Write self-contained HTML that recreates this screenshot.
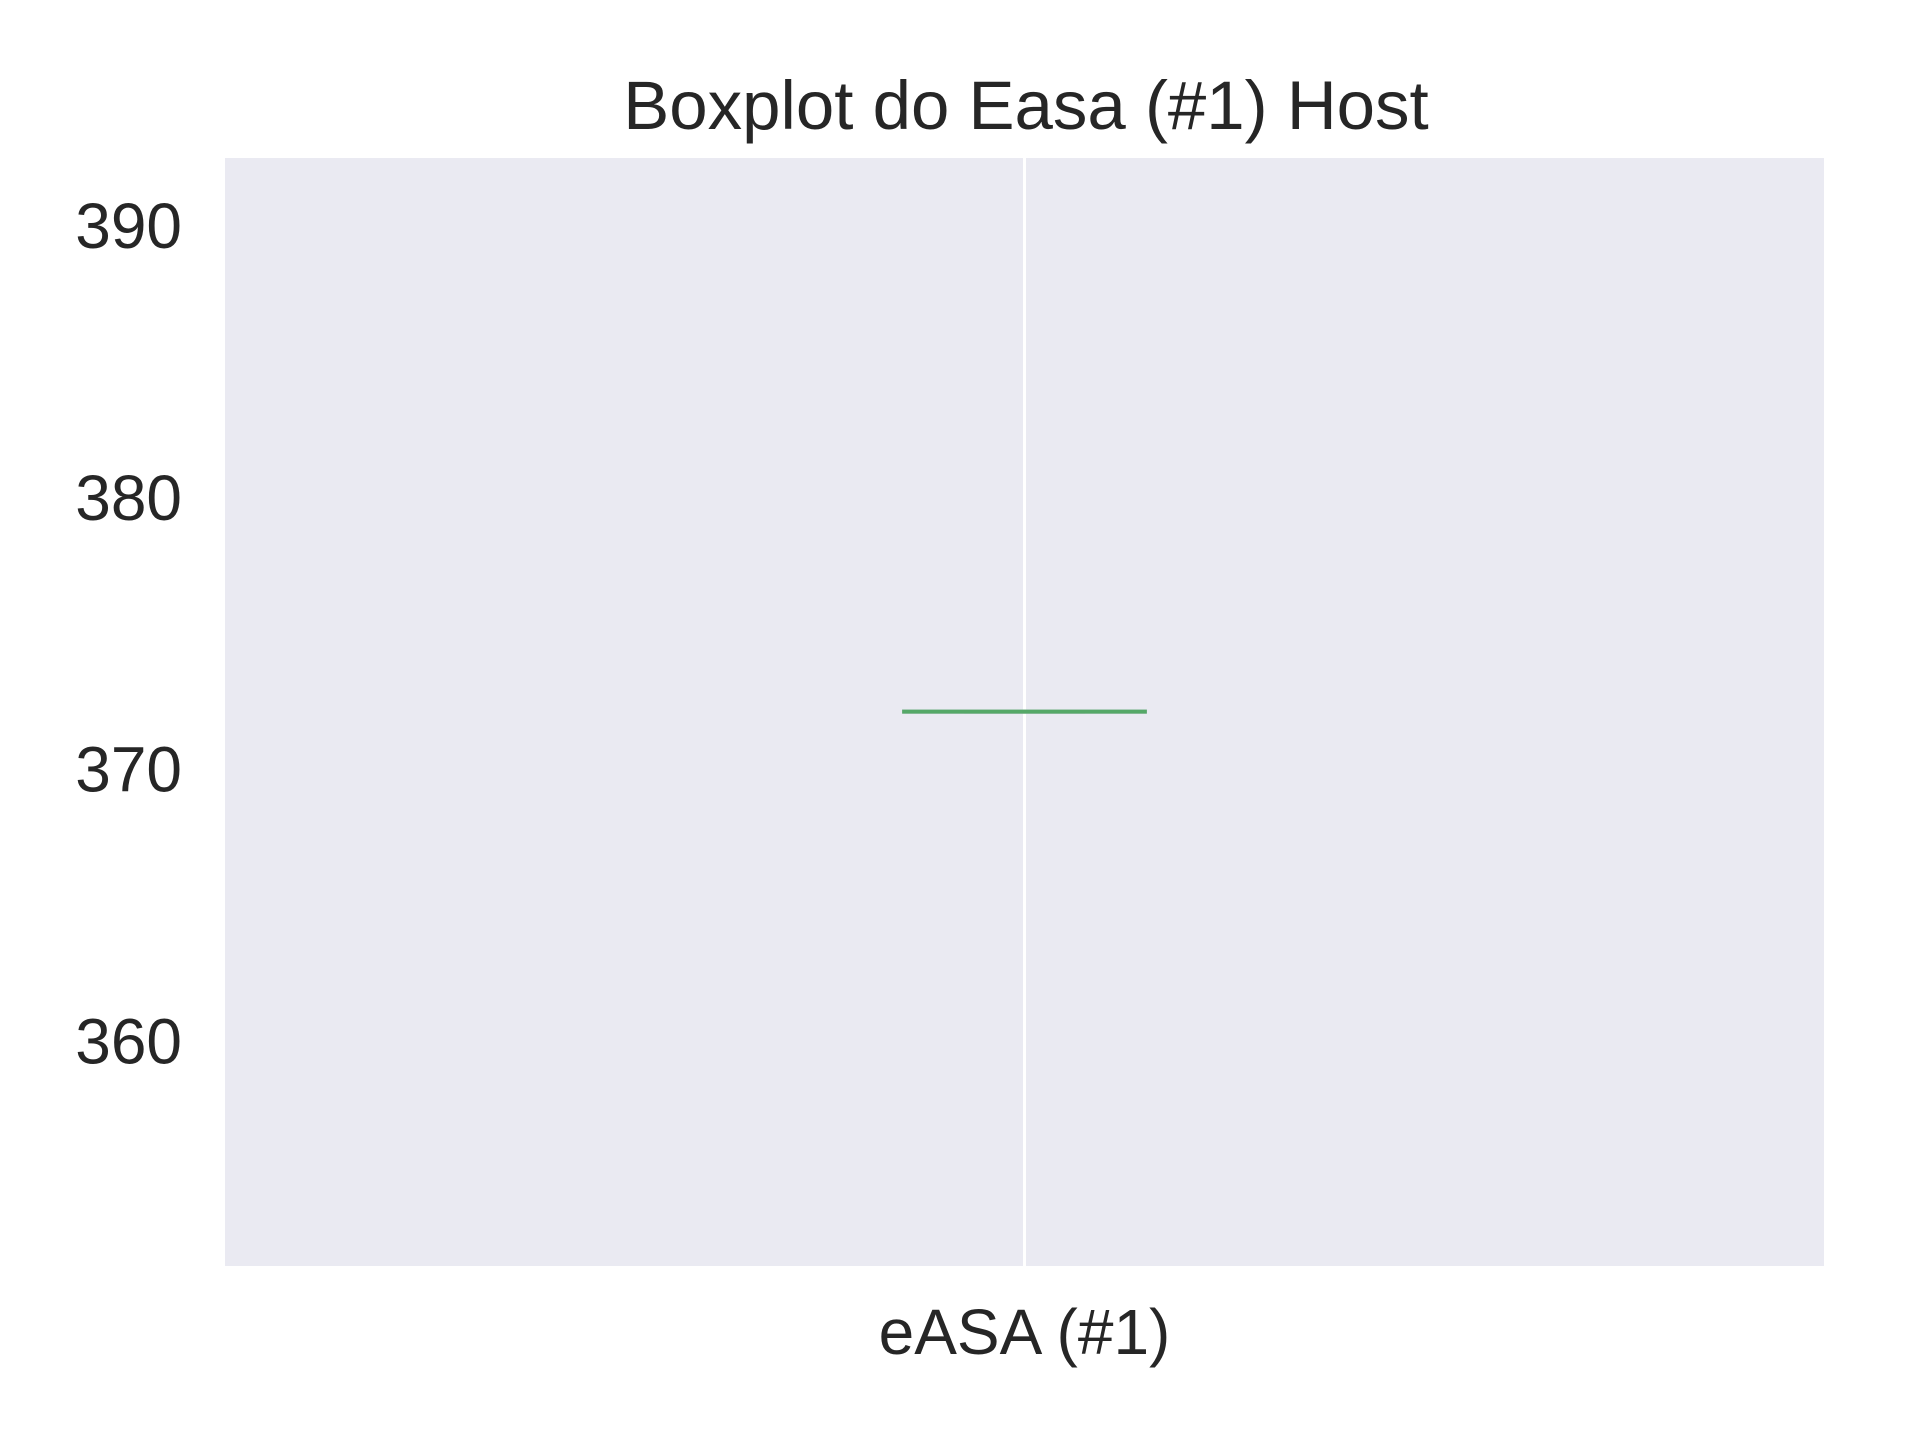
<!DOCTYPE html>
<html>
<head>
<meta charset="utf-8">
<style>
  html, body { margin: 0; padding: 0; background: #ffffff; }
  body { width: 1920px; height: 1440px; overflow: hidden; }
  svg text { font-family: "Liberation Sans", "DejaVu Sans", sans-serif; fill: #262626; }
</style>
</head>
<body>
<svg id="chart" width="1920" height="1440" viewBox="0 0 1920 1440" xmlns="http://www.w3.org/2000/svg">
  <rect x="225" y="158" width="1599" height="1108" fill="#eaeaf2"/>
  <g id="grid"></g>
  <g id="boxes"></g>
  <g id="yticks"></g>
  <g id="xticks"></g>
  <text x="1026" y="129" font-size="69" text-anchor="middle">Boxplot do Easa (#1) Host</text>
</svg>
<script>
const categories = ["eASA (#1)"];
const whiskerLow = [372.1];
const q1Values = [372.1];
const medianValues = [372.1];
const q3Values = [372.1];
const whiskerHigh = [372.1];
const yTickValues = [360, 370, 380, 390];
const yTickLabels = ["360", "370", "380", "390"];

const plot = { left: 225, right: 1824, top: 158, bottom: 1266 };
const yMin = 351.7, yMax = 392.47;
function yScale(v) { return plot.bottom - (v - yMin) / (yMax - yMin) * (plot.bottom - plot.top); }
function xScale(i) { const w = (plot.right - plot.left) / categories.length; return plot.left + w * (i + 0.5); }
const bandW = (plot.right - plot.left) / categories.length;
const NS = "http://www.w3.org/2000/svg";
function mk(tag, attrs, parent) {
  const el = document.createElementNS(NS, tag);
  for (const k in attrs) el.setAttribute(k, attrs[k]);
  parent.appendChild(el);
  return el;
}
const grid = document.getElementById('grid');
const boxes = document.getElementById('boxes');
const yt = document.getElementById('yticks');
const xt = document.getElementById('xticks');

categories.forEach((c, i) => {
  const x = xScale(i);
  const g = mk('line', { x1: x, x2: x, y1: plot.top, y2: plot.bottom, stroke: '#ffffff', 'stroke-width': 3 }, grid);
  
  

  const t = mk('text', { x: x, y: 1354, 'font-size': 64, 'text-anchor': 'middle' }, xt);
  t.textContent = c;
  
  

  const boxHalf = bandW * 0.038;
  const capHalf = bandW * 0.0765;
  const yq1 = yScale(q1Values[i]), yq3 = yScale(q3Values[i]);
  const box = mk('rect', { x: x - boxHalf, y: Math.min(yq1, yq3) - 2, width: boxHalf * 2, height: Math.abs(yq1 - yq3) + 4, fill: '#a0a4ac', 'fill-opacity': 0.8 }, boxes);
  
  

  const yl = yScale(whiskerLow[i]), yh = yScale(whiskerHigh[i]);
  const wl = mk('line', { x1: x - capHalf, x2: x + capHalf, y1: yl, y2: yl, stroke: '#b8bcc6', 'stroke-width': 4 }, boxes);
  
  
  const wh = mk('line', { x1: x - capHalf, x2: x + capHalf, y1: yh, y2: yh, stroke: '#b8bcc6', 'stroke-width': 4 }, boxes);
  
  

  const ym = yScale(medianValues[i]);
  const med = mk('line', { x1: x - capHalf, x2: x + capHalf, y1: ym, y2: ym, stroke: '#55a868', 'stroke-width': 4 }, boxes);
  
  
});

yTickValues.forEach((v, i) => {
  const y = yScale(v);
  const t = mk('text', { x: 182, y: y + 23, 'font-size': 64, 'text-anchor': 'end' }, yt);
  t.textContent = yTickLabels[i];
  
  
});
</script>
</body>
</html>
